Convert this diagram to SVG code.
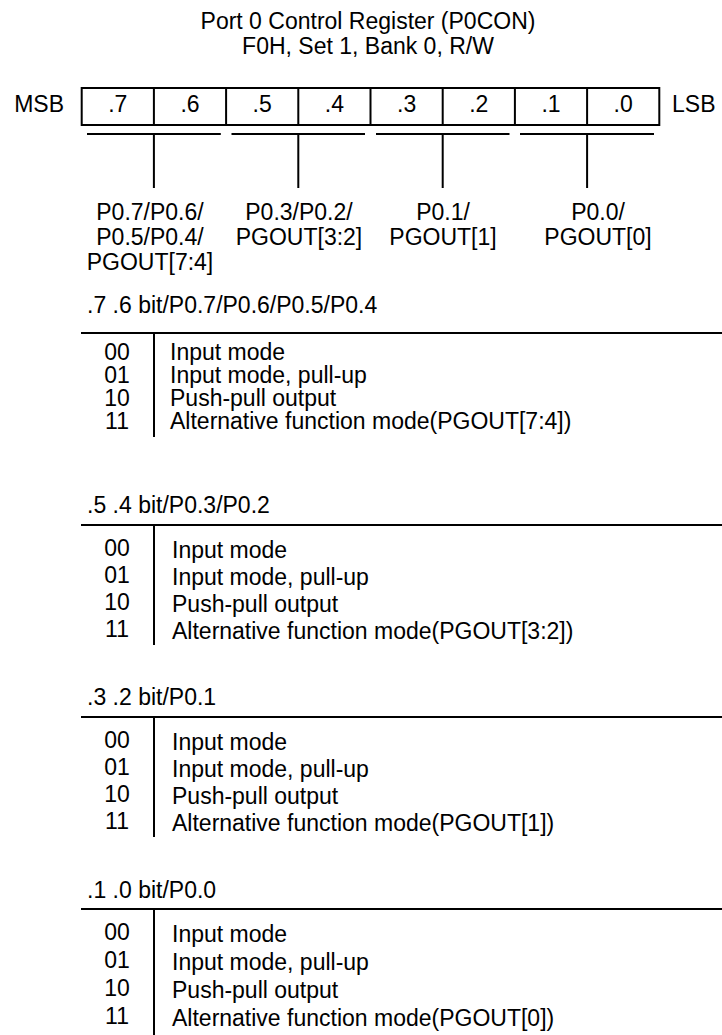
<svg xmlns="http://www.w3.org/2000/svg" width="722" height="1035" viewBox="0 0 722 1035">
<style>
text{font-family:"Liberation Sans",Arial,sans-serif;font-size:23px;fill:#000}
.m{text-anchor:middle}
.e{text-anchor:end}
.ln{stroke:#000;stroke-width:2;fill:none}
</style>
<rect width="722" height="1035" fill="#fff"/>
<g id="title">
<text class="m" x="368" y="29">Port 0 Control Register (P0CON)</text>
<text class="m" x="368" y="54">F0H, Set 1, Bank 0, R/W</text>
</g>
<g id="register">
<rect class="ln" x="81.7" y="88" width="577.6" height="37"/>
<path class="ln" d="M153.9 88V125M226.1 88V125M298.3 88V125M370.5 88V125M442.7 88V125M514.9 88V125M587.1 88V125"/>
<text class="e" x="64" y="112">MSB</text>
<text x="672" y="112">LSB</text>
<text class="m" x="117.8" y="112">.7</text>
<text class="m" x="190" y="112">.6</text>
<text class="m" x="262.2" y="112">.5</text>
<text class="m" x="334.4" y="112">.4</text>
<text class="m" x="406.6" y="112">.3</text>
<text class="m" x="478.8" y="112">.2</text>
<text class="m" x="551" y="112">.1</text>
<text class="m" x="623.2" y="112">.0</text>
</g>
<g id="connectors">
<path class="ln" d="M87 134H220.8M231.5 134H365M376 134H509.5M520 134H654"/>
<path class="ln" d="M153.9 134V188M298.3 134V188M442.7 134V188M587.1 134V188"/>
</g>
<g id="labels">
<text class="m" x="150" y="220">P0.7/P0.6/</text>
<text class="m" x="150" y="245">P0.5/P0.4/</text>
<text class="m" x="150" y="270">PGOUT[7:4]</text>
<text class="m" x="299" y="220">P0.3/P0.2/</text>
<text class="m" x="299" y="245">PGOUT[3:2]</text>
<text class="m" x="443" y="220">P0.1/</text>
<text class="m" x="443" y="245">PGOUT[1]</text>
<text class="m" x="598" y="220">P0.0/</text>
<text class="m" x="598" y="245">PGOUT[0]</text>
</g>
<g id="section1">
<text x="87" y="313">.7 .6 bit/P0.7/P0.6/P0.5/P0.4</text>
<path class="ln" d="M81 333H722M154 333V437"/>
<text class="m" x="117" y="360">00</text>
<text class="m" x="117" y="383">01</text>
<text class="m" x="117" y="406">10</text>
<text class="m" x="117" y="429">11</text>
<text x="170" y="360">Input mode</text>
<text x="170" y="383">Input mode, pull-up</text>
<text x="170" y="406">Push-pull output</text>
<text x="170" y="429">Alternative function mode(PGOUT[7:4])</text>
</g>
<g id="section2">
<text x="87" y="513">.5 .4 bit/P0.3/P0.2</text>
<path class="ln" d="M81 525H722M154 525V645"/>
<text class="m" x="117" y="556">00</text>
<text class="m" x="117" y="583">01</text>
<text class="m" x="117" y="610">10</text>
<text class="m" x="117" y="637">11</text>
<text x="172" y="558">Input mode</text>
<text x="172" y="585">Input mode, pull-up</text>
<text x="172" y="612">Push-pull output</text>
<text x="172" y="639">Alternative function mode(PGOUT[3:2])</text>
</g>
<g id="section3">
<text x="87" y="705">.3 .2 bit/P0.1</text>
<path class="ln" d="M81 717H722M154 717V837"/>
<text class="m" x="117" y="748">00</text>
<text class="m" x="117" y="775">01</text>
<text class="m" x="117" y="802">10</text>
<text class="m" x="117" y="829">11</text>
<text x="172" y="750">Input mode</text>
<text x="172" y="777">Input mode, pull-up</text>
<text x="172" y="804">Push-pull output</text>
<text x="172" y="831">Alternative function mode(PGOUT[1])</text>
</g>
<g id="section4">
<text x="87" y="898">.1 .0 bit/P0.0</text>
<path class="ln" d="M81 909H722M154 909V1035"/>
<text class="m" x="117" y="940">00</text>
<text class="m" x="117" y="968">01</text>
<text class="m" x="117" y="996">10</text>
<text class="m" x="117" y="1024">11</text>
<text x="172" y="942">Input mode</text>
<text x="172" y="970">Input mode, pull-up</text>
<text x="172" y="998">Push-pull output</text>
<text x="172" y="1026">Alternative function mode(PGOUT[0])</text>
</g>
</svg>
